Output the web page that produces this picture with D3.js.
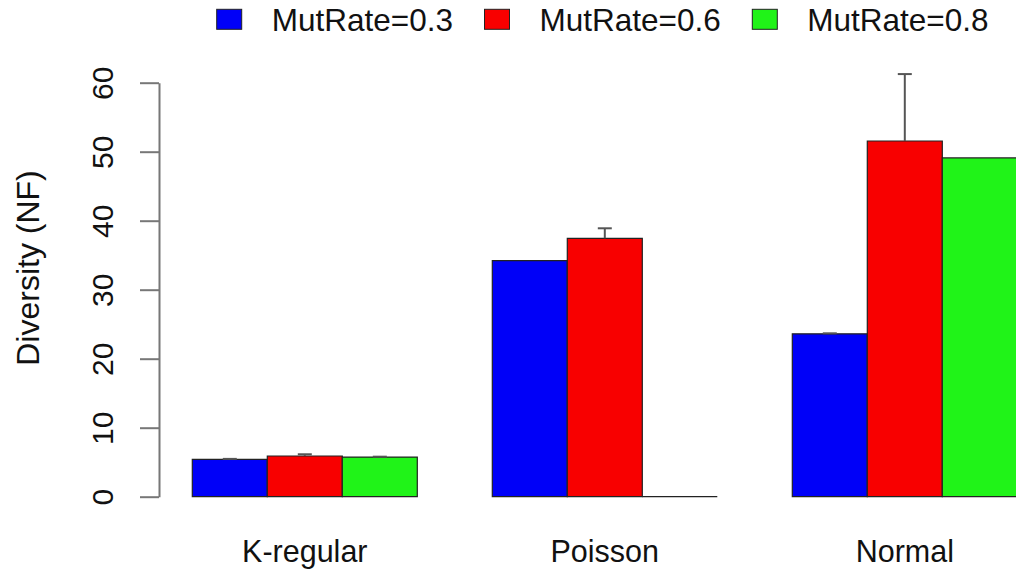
<!DOCTYPE html>
<html>
<head>
<meta charset="utf-8">
<script src="https://cdn.jsdelivr.net/npm/d3@7"></script>
<style>
  body { margin: 0; background: #fff; }
  svg { display: block; font-family: "Liberation Sans", Arial, sans-serif; }
</style>
</head>
<body>
<div id="chart"></div>
<script>
const width = 1016,
height = 573

// data
const categories = ["K-regular", "Poisson", "Normal"]
const series = ["MutRate=0.3", "MutRate=0.6", "MutRate=0.8"]
const colors = ["#0000f8", "#f80000", "#20f318"]
const values = [
    [5.4, 34.2, 23.6],   // MutRate=0.3
    [5.9, 37.45, 51.55], // MutRate=0.6
    [5.75, 0, 49.1]      // MutRate=0.8
]
const errors = [
    [0.08, 0, 0.08],
    [0.25, 1.45, 9.7],
    [0.05, 0, 0]
]
const yTicks = [0, 10, 20, 30, 40, 50, 60]

const svg = d3.select("#chart")
    .append("svg")
    .attr("width", width)
    .attr("height", height)

const x0 = d3.scaleBand()
    .domain(categories)
    .range([192.3, 1017.3])
    .paddingInner(0.25)
    .paddingOuter(0)

const x1 = d3.scaleBand()
    .domain(series)
    .range([0, x0.bandwidth()])

const y = d3.scaleLinear()
    .domain([0, 60])
    .range([496.7, 82.7])

// flatten into one row per bar
const bars = []
series.forEach((s, i) => {
    categories.forEach((c, j) => {
        bars.push({ s, c, i, v: values[i][j], e: errors[i][j] })
    })
})

const g = svg.append("g")

// paths instead of rects so a zero bar still shows its outline (like R)
g.selectAll("path.bar")
    .data(bars)
    .join("path")
    .attr("class", "bar")
    .attr("d", d => {
        const xl = x0(d.c) + x1(d.s), xr = xl + x1.bandwidth()
        return `M${xl},${y(0)}V${y(d.v)}H${xr}V${y(0)}Z`
    })
    .attr("fill", d => colors[d.i])
    .attr("stroke", "#222")
    .attr("stroke-width", 1.2)

//error bars, only upward like the original
const eb = g.selectAll("g.err")
    .data(bars.filter(d => d.e > 0))
    .join("g")
    .attr("class", "err")
    .attr("transform", d => `translate(${x0(d.c) + x1(d.s) + x1.bandwidth() / 2},0)`)

eb.append("line")
    .attr("y1", d => y(d.v))
    .attr("y2", d => y(d.v + d.e))
    .attr("stroke", "#555")
    .attr("stroke-width", 2)

eb.append("line")
    .attr("x1", -7)
    .attr("x2", 7)
    .attr("y1", d => y(d.v + d.e))
    .attr("y2", d => y(d.v + d.e))
    .attr("stroke", "#555")
    .attr("stroke-width", 2)

// y axis
const yAxis = svg.append("g")
    .attr("transform", "translate(159,0)")
    .call(d3.axisLeft(y).tickValues(yTicks).tickSize(19).tickSizeOuter(0))

yAxis.select(".domain").attr("stroke", "#777").attr("stroke-width", 2)
yAxis.selectAll(".tick line").attr("stroke", "#777").attr("stroke-width", 2)
yAxis.selectAll(".tick text")
    .attr("x", null)
    .attr("dy", null)
    .attr("transform", "translate(-46,0) rotate(-90)")
    .attr("text-anchor", "middle")
    .attr("font-size", 30)
    .attr("font-family", "Liberation Sans, Arial, sans-serif")
    .attr("fill", "#111")

svg.append("text")
    .attr("transform", "translate(39,268) rotate(-90)")
    .attr("text-anchor", "middle")
    .attr("font-size", 32)
    .attr("fill", "#111")
    .text("Diversity (NF)")

// category labels
svg.selectAll("text.cat")
    .data(categories)
    .join("text")
    .attr("class", "cat")
    .attr("x", d => x0(d) + x0.bandwidth() / 2)
    .attr("y", 562)
    .attr("text-anchor", "middle")
    .attr("font-size", 30.5)
    .attr("fill", "#111")
    .text(d => d)

// legend
const legend = svg.selectAll("g.legend")
    .data(series)
    .join("g")
    .attr("class", "legend")
    .attr("transform", (d, i) => `translate(${216.7 + i * 267.8},0)`)

legend.append("rect")
    .attr("x", 0)
    .attr("y", 9.3)
    .attr("width", 25)
    .attr("height", 20)
    .attr("fill", (d, i) => colors[i])
    .attr("stroke", "#222")
    .attr("stroke-width", 1)

legend.append("text")
    .attr("x", 55)
    .attr("y", 30.7)
    .attr("font-size", 31.5)
    .attr("fill", "#111")
    .text(d => d)
</script>
</body>
</html>
